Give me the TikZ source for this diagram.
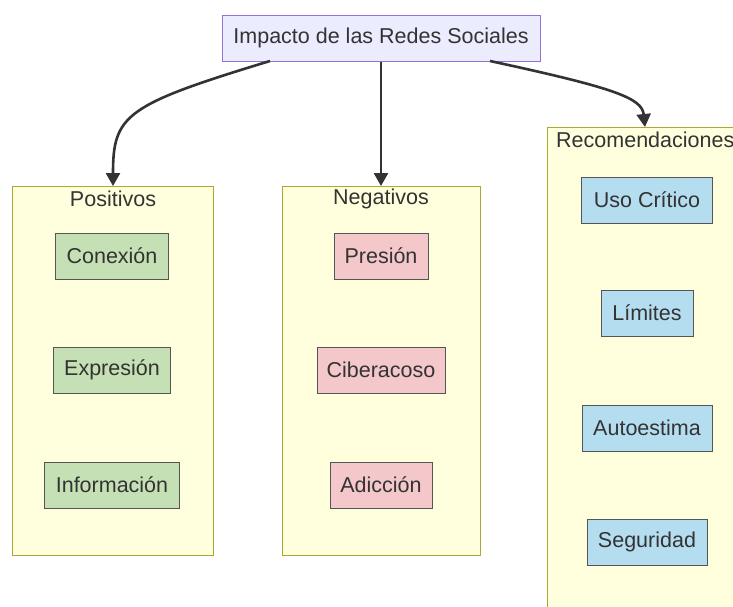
\documentclass[tikz,border=0pt]{standalone}
\usepackage{fontspec}
\setmainfont{Liberation Sans}
\usetikzlibrary{arrows.meta}
\definecolor{txt}{HTML}{333333}
\definecolor{clfill}{HTML}{FFFFDE}
\definecolor{clborder}{HTML}{AAAA33}
\definecolor{topfill}{HTML}{ECECFF}
\definecolor{topborder}{HTML}{9370DB}
\definecolor{gfill}{HTML}{C5E0B4}
\definecolor{rfill}{HTML}{F4C7CB}
\definecolor{bfill}{HTML}{B5DDF0}
\definecolor{nborder}{HTML}{555555}
\tikzset{
  x=1pt, y=-1pt,
  every node/.style={font=\fontsize{21.5}{24}\selectfont, text=txt},
  leaf/.style={draw=nborder, line width=1pt, minimum height=46pt, inner xsep=2pt},
  cluster/.style={draw=clborder, fill=clfill, line width=1pt},
  conn/.style={draw=txt, line width=2.6pt, -{Triangle[length=13pt,width=14pt]}},
}
\begin{document}
\begin{tikzpicture}
\useasboundingbox (0,0) rectangle (733,606);
\fill[white] (0,0) rectangle (733,606);
% clusters
\draw[cluster] (12,186) rectangle (213,555);
\draw[cluster] (282,186) rectangle (480,555);
\draw[cluster] (547,127) rectangle (745,620);
\node (lp) at (113,199) {Positivos};
\node (ln) at (381,199) {Negativos};
\node[anchor=west, inner xsep=0pt] (lr) at (556,140) {Recomendaciones};
% top
\node[draw=topborder, fill=topfill, line width=1pt, minimum width=318pt, minimum height=46pt] (top) at (381,38) {Impacto de las Redes Sociales};
% leaves
\node[leaf, fill=gfill, minimum width=113pt] (c1) at (112,256) {Conexión};
\node[leaf, fill=gfill, minimum width=117pt] (c2) at (112,370) {Expresión};
\node[leaf, fill=gfill, minimum width=135pt] (c3) at (112,485) {Información};
\node[leaf, fill=rfill, minimum width=94pt] (n1) at (381,256) {Presión};
\node[leaf, fill=rfill, minimum width=128pt] (n2) at (381,370) {Ciberacoso};
\node[leaf, fill=rfill, minimum width=102pt] (n3) at (381,485) {Adicción};
\node[leaf, fill=bfill, minimum width=131pt] (r1) at (647,200) {Uso Crítico};
\node[leaf, fill=bfill, minimum width=92pt] (r2) at (647,313) {Límites};
\node[leaf, fill=bfill, minimum width=130pt] (r3) at (647,428) {Autoestima};
\node[leaf, fill=bfill, minimum width=120pt] (r4) at (647,542) {Seguridad};
% connectors
\coordinate (tl) at (270,61);
\coordinate (tr) at (490,61);
\coordinate (pt) at (113,186);
\coordinate (nt) at (381,186);
\coordinate (rt) at (645,127);
\draw[conn] (tl) .. controls (125,105) and (113,115) .. (pt);
\draw[conn] (top.south) -- (nt);
\draw[conn] (tr) .. controls (615,88) and (642,98) .. (rt);
\end{tikzpicture}
\end{document}
